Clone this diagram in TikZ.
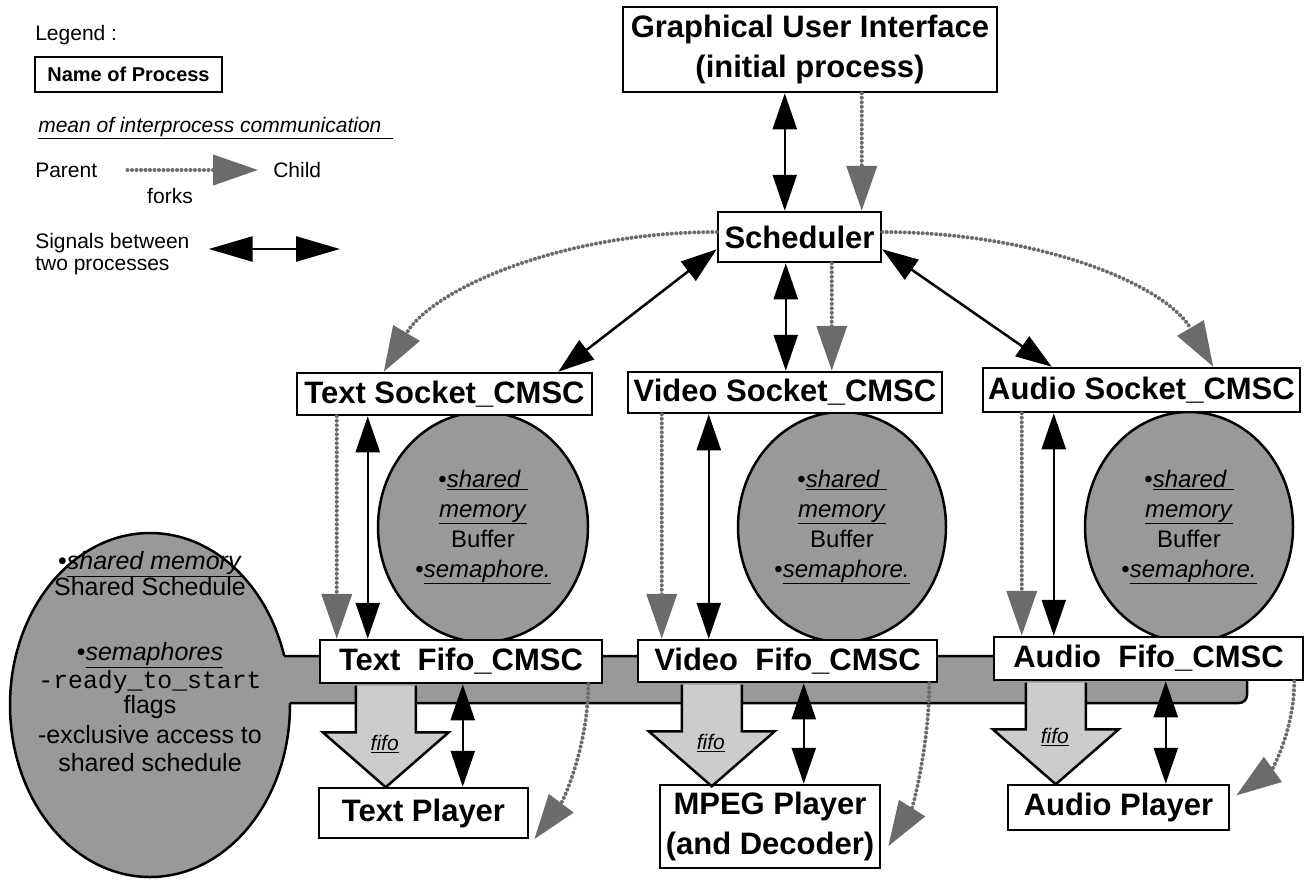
\documentclass[tikz,border=0pt]{standalone}
\usepackage{fontspec}
\setmainfont{Liberation Sans}
\setmonofont{Liberation Mono}
\usetikzlibrary{arrows.meta, shapes.geometric}

\definecolor{memgrey}{gray}{0.6}
\definecolor{forkgrey}{gray}{0.42}
\definecolor{pipegrey}{gray}{0.8}

\newcommand{\ulit}[1]{\underline{\textit{#1}}}

\begin{document}
\begin{tikzpicture}[
            x = 1pt, y = -1pt, % one unit per pixel, y going down
            > = {Triangle[length=36pt, width=24pt]}, % signal heads
            semithick
        ]

        \tikzstyle{process}=[
            draw = black,
            line width = 2.5pt,
            fill = white,
            inner sep = 0pt,
            align = center,
            font = \bfseries\fontsize{31}{40}\selectfont
        ]
        \tikzstyle{sharedmem}=[ellipse, draw = black, line width = 2.5pt, fill = memgrey, inner sep = 0pt, align = center, font = \fontsize{24}{30}\selectfont]
        \tikzstyle{signal}=[<->, line width = 2.5pt]
        \tikzstyle{forkline}=[-{Triangle[length=45pt, width=30pt, color=forkgrey]}, draw = forkgrey, line width = 4pt, dash pattern = on 0pt off 4.5pt, line cap = round]
        \tikzstyle{fifoarrow}=[draw = black, line width = 2.5pt, fill = pipegrey, line join = miter]
        \tikzstyle{fifolabel}=[inner sep = 0pt, font = \itshape\fontsize{21}{24}\selectfont]
        \tikzstyle{legendtext}=[inner sep = 0pt, anchor = west, align = left, font = \fontsize{21}{22}\selectfont]

        \useasboundingbox (0,0) rectangle (1308,879);

        % legend
        \node[legendtext] (legend) at (35,35) {Legend :};
        \node[process, font = \bfseries\fontsize{20}{24}\selectfont, minimum width = 187pt, minimum height = 35pt] (nameproc) at (128.5,74.5) {Name of Process};
        \node[legendtext, font = \itshape\fontsize{21}{24}\selectfont] (ipc) at (38,128) {\underline{mean of interprocess communication\ \ }};
        \node[legendtext] (parent) at (35,170) {Parent};
        \node[legendtext] (child) at (273,170) {Child};
        \node[legendtext, anchor = center] (forks) at (170,196) {forks};
        \node[legendtext] (signals) at (35,254) {Signals between\\two processes};
        \coordinate (sigend) at (340,249);

        \draw[forkline] ([xshift=30pt]parent.east) -- ([xshift=-15pt]child.west);
        \draw[signal, > = {Triangle[length=44pt, width=25pt]}] ([xshift=19pt, yshift=5pt]signals.east) -- (sigend);

        % shared schedule and the band to the fifos
        \node[sharedmem, minimum width = 280pt, minimum height = 344pt] (schedmem) at (150,705) {};
        \node[inner sep = 0pt, align = center, anchor = north, font = \fontsize{25}{28}\selectfont] (schedtxt) at (150,551) {%
            •\ulit{shared memory}\\[-2pt]
            Shared Schedule\\[37pt]
            •\ulit{semaphores}\\
            {\ttfamily\fontsize{24.8}{28}\selectfont -ready\_to\_start}\\[-3pt]
            flags\\[2pt]
            -exclusive access to\\
            shared schedule};
        \fill[memgrey, rounded corners = 8pt] (270,656) -- (1247,656) -- (1247,703) -- (270,703) -- cycle;
        \draw[line width = 2.5pt, rounded corners = 8pt] (284,656) -- (1247,656) -- (1247,703) -- (290,703);

        % buffers
        \node[sharedmem, minimum width = 210pt, minimum height = 230pt] (txtbuf) at (483,527) {•\ulit{shared\ }\\\ulit{memory}\\Buffer\\•\ulit{semaphore.}};
        \node[sharedmem, minimum width = 208pt, minimum height = 230pt] (vidbuf) at (842,527) {•\ulit{shared\ }\\\ulit{memory}\\Buffer\\•\ulit{semaphore.}};
        \node[sharedmem, minimum width = 208pt, minimum height = 230pt] (audbuf) at (1189,527) {•\ulit{shared\ }\\\ulit{memory}\\Buffer\\•\ulit{semaphore.}};

        % processes
        \node[process, minimum width = 374pt, minimum height = 85pt] (gui) at (810,49.5) {Graphical User Interface\\(initial process)};
        \node[process, minimum width = 163pt, minimum height = 50pt] (sched) at (799.5,237) {Scheduler};

        \node[process, minimum width = 295pt, minimum height = 42pt] (txtsock) at (444.5,394) {Text Socket\_CMSC};
        \node[process, minimum width = 314pt, minimum height = 41pt] (vidsock) at (785,392.5) {Video Socket\_CMSC};
        \node[process, minimum width = 317pt, minimum height = 44pt] (audsock) at (1141.5,390) {Audio Socket\_CMSC};

        \node[process, minimum width = 282pt, minimum height = 43pt] (txtfifo) at (461,661.5) {Text~~Fifo\_CMSC};
        \node[process, minimum width = 299pt, minimum height = 42pt] (vidfifo) at (787.5,661) {Video~~Fifo\_CMSC};
        \node[process, minimum width = 309pt, minimum height = 43pt] (audfifo) at (1148.5,658.5) {Audio~~Fifo\_CMSC};

        \node[process, minimum width = 209pt, minimum height = 50pt] (txtplay) at (423.5,813) {Text Player};
        \node[process, minimum width = 220pt, minimum height = 83pt] (mpegplay) at (770,826.5) {MPEG Player\\(and Decoder)};
        \node[process, minimum width = 221pt, minimum height = 45pt] (audplay) at (1118.5,807.5) {Audio Player};

        % fifo pipes
        \draw[fifoarrow] ([xshift=37pt, yshift=-1.3pt]txtfifo.south west) -- ++(0,46.7) node[fifolabel, xshift=29pt, yshift=-12pt] {\underline{fifo}} -- ++(-33,0) -- ++(63,55) -- ++(63,-55) -- ++(-33,0) -- ++(0,-46.7);
        \draw[fifoarrow] ([xshift=45pt, yshift=-1.3pt]vidfifo.south west) -- ++(0,46.7) node[fifolabel, xshift=29pt, yshift=-12pt] {\underline{fifo}} -- ++(-33,0) -- ++(63,55) -- ++(63,-55) -- ++(-33,0) -- ++(0,-46.7);
        \draw[fifoarrow] ([xshift=33pt, yshift=-1.3pt]audfifo.south west) -- ++(0,46.7) node[fifolabel, xshift=29pt, yshift=-8pt] {\underline{fifo}} -- ++(-33,0) -- ++(63,55) -- ++(63,-55) -- ++(-33,0) -- ++(0,-46.7);

        % gui and scheduler
        \draw[signal] ([xshift=163pt]gui.south west) -- ([xshift=68pt]sched.north west);
        \draw[forkline] ([xshift=240pt]gui.south west) -- ([xshift=145pt]sched.north west);

        % scheduler and sockets
        \draw[signal] ([yshift=14pt]sched.south west) -- ([xshift=-35pt]txtsock.north east);
        \draw[signal] ([xshift=69pt]sched.south west) -- ([xshift=159pt]vidsock.north west);
        \draw[forkline] ([xshift=115pt]sched.south west) -- ([xshift=205pt]vidsock.north west);
        \draw[signal] ([yshift=14pt]sched.south east) -- ([xshift=70pt]audsock.north west);
        \draw[forkline] ([yshift=5pt]sched.west) .. controls +(-150,0) and +(50,-85) .. ([xshift=88pt]txtsock.north west);
        \draw[forkline] ([yshift=5pt]sched.east) .. controls +(150,0) and +(-50,-85) .. ([xshift=-88pt]audsock.north east);

        % sockets and fifos
        \draw[forkline] ([xshift=41pt]txtsock.south west) -- ([xshift=18pt]txtfifo.north west);
        \draw[signal] ([xshift=72pt]txtsock.south west) -- ([xshift=49pt]txtfifo.north west);
        \draw[forkline] ([xshift=35pt]vidsock.south west) -- ([xshift=25pt]vidfifo.north west);
        \draw[signal] ([xshift=82pt]vidsock.south west) -- ([xshift=72pt]vidfifo.north west);
        \draw[forkline] ([xshift=40pt]audsock.south west) -- ([xshift=29pt]audfifo.north west);
        \draw[signal] ([xshift=72pt]audsock.south west) -- ([xshift=61pt]audfifo.north west);

        % fifos and players
        \draw[signal] ([xshift=144pt]txtfifo.south west) -- ([xshift=145pt]txtplay.north west);
        \draw[signal] ([xshift=167pt]vidfifo.south west) -- ([xshift=145pt]mpegplay.north west);
        \draw[signal] ([xshift=173pt]audfifo.south west) -- ([xshift=159pt]audplay.north west);
        \draw[forkline] ([xshift=-15pt]txtfifo.south east) .. controls +(0,60) and +(30,-40) .. ([xshift=5pt]txtplay.south east);
        \draw[forkline] ([xshift=-9pt]vidfifo.south east) .. controls +(0,60) and +(25,-40) .. ([xshift=7pt, yshift=23pt]mpegplay.south east);
        \draw[forkline] ([xshift=-10pt]audfifo.south east) .. controls +(0,50) and +(35,-25) .. ([xshift=6pt, yshift=12pt]audplay.east);

    \end{tikzpicture}
\end{document}
